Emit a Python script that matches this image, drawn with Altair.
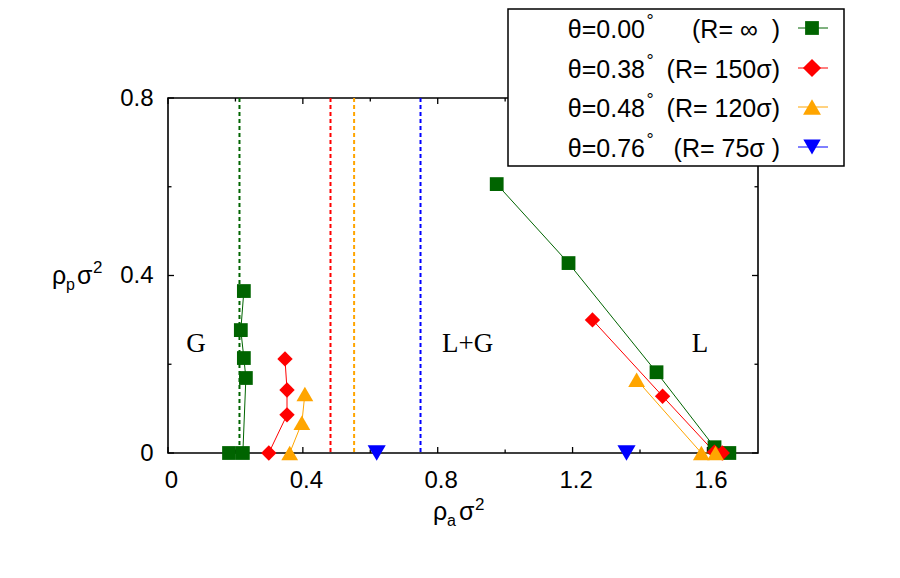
import altair as alt
import pandas as pd

W, H = 590, 355

# ---------------- data ----------------
series = ["t000", "t038", "t048", "t076"]
colors = ["#006400", "#ff0000", "#ffa500", "#0000ff"]
shapes = ["square", "diamond", "triangle-up", "triangle-down"]
sizes = [190, 330, 320, 300]

# theta = 0.00 (R = inf)
g_left_x = [0.181, 0.222, 0.231, 0.225, 0.216, 0.225]
g_left_y = [0.0, 0.0, 0.169, 0.214, 0.277, 0.365]
g_right_x = [0.975, 1.188, 1.449, 1.621, 1.665]
g_right_y = [0.606, 0.428, 0.182, 0.013, 0.0]
# theta = 0.38 (R = 150 sigma)
r_left_x = [0.299, 0.353, 0.353, 0.347]
r_left_y = [0.0, 0.086, 0.142, 0.212]
r_right_x = [1.259, 1.467, 1.621, 1.644]
r_right_y = [0.300, 0.128, 0.002, 0.0]
# theta = 0.48 (R = 120 sigma)
o_left_x = [0.361, 0.397, 0.406]
o_left_y = [0.0, 0.068, 0.133]
o_right_x = [1.390, 1.582, 1.624]
o_right_y = [0.165, 0.0, 0.0]
# theta = 0.76 (R = 75 sigma)
b_left_x = [0.619]
b_left_y = [0.0]
b_right_x = [1.360]
b_right_y = [0.0]

# critical (dotted) lines
vline_x = [0.212, 0.482, 0.552, 0.749]

# region labels
region_text = ["G", "L+G", "L"]
region_x = [0.083, 0.889, 1.578]
region_y = [0.245, 0.245, 0.245]

legend_theta = ["θ=0.00", "θ=0.38", "θ=0.48", "θ=0.76"]
legend_R = ["(R= ∞ \u00a0)", "(R= 150σ)", "(R= 120σ)", "(R= 75σ )"]

x_major = [0, 0.4, 0.8, 1.2, 1.6]
x_minor = [0.2, 0.6, 1.0, 1.4]
y_major = [0, 0.4, 0.8]
y_minor = [0.2, 0.6]

# ---------------- tables ----------------
rows = []
branches = [
    ("t000", "gl", g_left_x, g_left_y), ("t000", "gr", g_right_x, g_right_y),
    ("t038", "rl", r_left_x, r_left_y), ("t038", "rr", r_right_x, r_right_y),
    ("t048", "ol", o_left_x, o_left_y), ("t048", "or", o_right_x, o_right_y),
    ("t076", "bl", b_left_x, b_left_y), ("t076", "br", b_right_x, b_right_y),
]
for s, b, xs, ys in branches:
    for i, (xv, yv) in enumerate(zip(xs, ys)):
        rows.append({"series": s, "branch": b, "idx": i, "x": xv, "y": yv})
df = pd.DataFrame(rows)
df_vl = pd.DataFrame({"series": series, "x": vline_x})
df_reg = pd.DataFrame({"t": region_text, "x": region_x, "y": region_y})

FONT = "Liberation Sans"
xscale = alt.Scale(domain=[0, 1.75], nice=False, zero=False)
yscale = alt.Scale(domain=[0, 0.8], nice=False, zero=False)
xaxis = alt.Axis(values=x_major, title=None, ticks=False, domain=False, grid=False,
                 labelFont=FONT, labelFontSize=24, labelColor="black", labelPadding=15,
                 labelFlush=False, labelOffset=3,
                 labelExpr="datum.value == 0 ? '0' : format(datum.value, '.1f')")
yaxis = alt.Axis(values=y_major, title=None, ticks=False, domain=False, grid=False,
                 labelFont=FONT, labelFontSize=24, labelColor="black", labelPadding=15,
                 labelFlush=False,
                 labelExpr="datum.value == 0 ? '0' : format(datum.value, '.1f')")
cscale = alt.Scale(domain=series, range=colors)
X = lambda f: alt.X(f, scale=xscale, axis=xaxis)
Y = lambda f: alt.Y(f, scale=yscale, axis=yaxis)

one = pd.DataFrame({"a": [0]})
layers = []

# dotted vertical lines
layers.append(
    alt.Chart(df_vl).mark_rule(strokeWidth=2, strokeDash=[4, 3]).encode(
        x=X("x:Q"), color=alt.Color("series:N", scale=cscale, legend=None))
)

# ticks (inward, mirrored)
def vticks(vals, length, top):
    y0 = 0 if top else H
    y1 = length if top else H - length
    return alt.Chart(pd.DataFrame({"v": vals})).mark_rule(color="black", strokeWidth=1.3).encode(
        x=X("v:Q"), y=alt.value(y0), y2=alt.value(y1))

def hticks(vals, length, right):
    x0 = W if right else 0
    x1 = W - length if right else length
    return alt.Chart(pd.DataFrame({"v": vals})).mark_rule(color="black", strokeWidth=1.3).encode(
        y=Y("v:Q"), x=alt.value(x0), x2=alt.value(x1))

for top in (False, True):
    layers.append(vticks(x_major, 6, top))
    layers.append(vticks(x_minor, 3.5, top))
for right in (False, True):
    layers.append(hticks(y_major, 6, right))
    layers.append(hticks(y_minor, 3.5, right))

# series lines and points
layers.append(
    alt.Chart(df).mark_line(strokeWidth=1).encode(
        x=X("x:Q"), y=Y("y:Q"), detail="branch:N", order="idx:Q",
        color=alt.Color("series:N", scale=cscale, legend=None))
)
layers.append(
    alt.Chart(df).mark_point(filled=True, opacity=1).encode(
        x=X("x:Q"), y=Y("y:Q"),
        color=alt.Color("series:N", scale=cscale, legend=None),
        shape=alt.Shape("series:N", scale=alt.Scale(domain=series, range=shapes), legend=None),
        size=alt.Size("series:N", scale=alt.Scale(domain=series, range=sizes), legend=None))
)

# region labels
layers.append(
    alt.Chart(df_reg).mark_text(font="Liberation Serif", fontSize=27, color="black",
                                align="center", baseline="middle").encode(
        x=X("x:Q"), y=Y("y:Q"), text="t:N")
)

# axis titles (composed: rho, subscript, sigma, superscript)
def txt(s, px, py, size):
    return alt.Chart(one).mark_text(font=FONT, fontSize=size, color="black",
                                    align="left", baseline="alphabetic").encode(
        x=alt.value(px), y=alt.value(py), text=alt.value(s))

layers += [txt("ρ", 433 - 168, 520 - 98, 25), txt("a", 447 - 168, 526 - 98, 16),
           txt("σ", 459 - 168, 520 - 98, 25), txt("2", 475 - 168, 510 - 98, 17)]
layers += [txt("ρ", 52 - 168, 284 - 98, 25), txt("p", 66 - 168, 290 - 98, 16),
           txt("σ", 77 - 168, 284 - 98, 25), txt("2", 93 - 168, 273 - 98, 17)]

# legend (box drawn on top of the frame)
layers.append(
    alt.Chart(one).mark_rect(fill="white", stroke="black", strokeWidth=1.5).encode(
        x=alt.value(508 - 168), x2=alt.value(844 - 168),
        y=alt.value(9 - 98), y2=alt.value(166 - 98))
)
row_c = [28 - 98, 68 - 98, 107 - 98, 147 - 98]
for i in range(4):
    yc = row_c[i]
    layers.append(alt.Chart(one).mark_rule(color=colors[i], strokeWidth=1).encode(
        x=alt.value(798 - 168), x2=alt.value(828 - 168), y=alt.value(yc)))
    layers.append(alt.Chart(one).mark_point(filled=True, opacity=1, color=colors[i],
                                            shape=shapes[i], size=sizes[i]).encode(
        x=alt.value(812 - 168), y=alt.value(yc)))
    layers.append(alt.Chart(one).mark_text(font=FONT, fontSize=25, color="black",
                                           align="right", baseline="middle").encode(
        x=alt.value(645 - 168), y=alt.value(yc + 2), text=alt.value(legend_theta[i])))
    layers.append(alt.Chart(one).mark_text(font=FONT, fontSize=18, color="black",
                                           align="center", baseline="alphabetic").encode(
        x=alt.value(650 - 168), y=alt.value(yc - 1), text=alt.value("°")))
    layers.append(alt.Chart(one).mark_text(font=FONT, fontSize=25, color="black",
                                           align="right", baseline="middle").encode(
        x=alt.value(780 - 168), y=alt.value(yc + 2), text=alt.value(legend_R[i])))

chart = alt.layer(*layers).properties(
    width=W, height=H,
    autosize=alt.AutoSizeParams(type="none"),
    padding={"left": 168, "top": 98, "right": 142, "bottom": 125},
    background="white",
).configure_view(stroke="black", strokeWidth=1.6)

chart.save("out.html", embed_options={"renderer": "svg", "actions": False})
